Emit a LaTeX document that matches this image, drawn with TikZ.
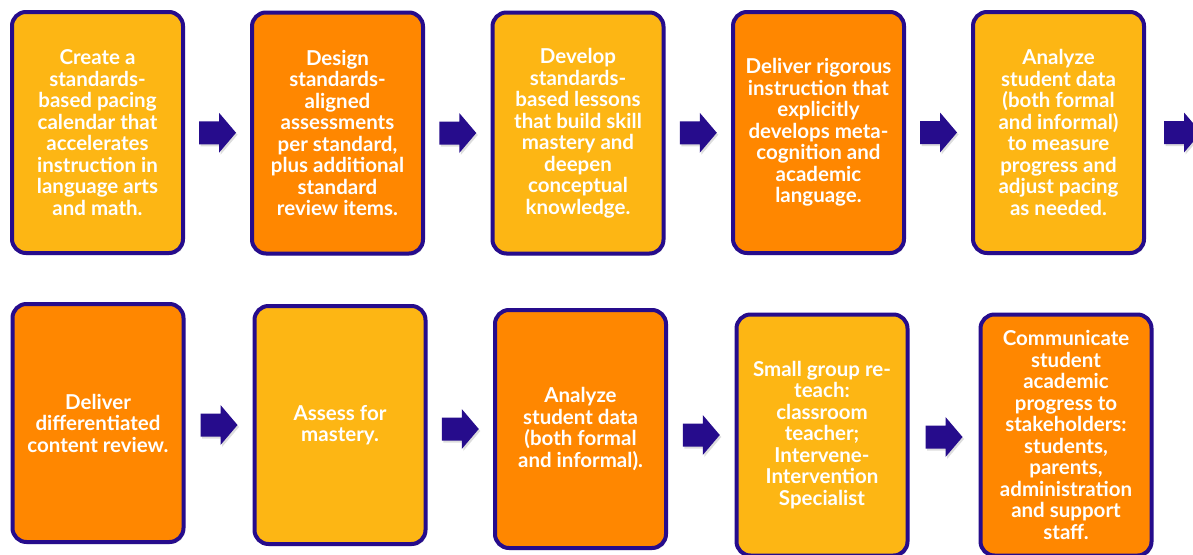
\documentclass[tikz,border=0pt]{standalone}
\usepackage{fontspec}
\setmainfont{Lato}
\usetikzlibrary{shadows,calc}
\definecolor{amber}{RGB}{253,182,20}
\definecolor{orng}{RGB}{255,135,0}
\definecolor{indigo}{RGB}{38,12,140}
\tikzset{
  softshadow/.style={drop shadow={opacity=0.22, shadow xshift=1.5pt, shadow yshift=-2pt, fill=black!60}},
  stepbox/.style={draw=indigo, line width=4pt, rounded corners=14pt,
    minimum width=171pt, minimum height=241pt, inner sep=0pt, text=white,
    align=center, font=\fontsize{20.5}{21.5}\selectfont\bfseries, softshadow},
  lightbox/.style={stepbox, fill=amber},
  darkbox/.style={stepbox, fill=orng},
  blockarrow/.style={fill=indigo, softshadow}
}
\newcommand\blockarr[1]{\path[blockarrow] ($(#1)+(-18.5,-11.5)$) -- ++(20,0) -- ++(0,-8.5) -- ++(17,20) -- ++(-17,20) -- ++(0,-8.5) -- ++(-20,0) -- cycle;}
\begin{document}
\begin{tikzpicture}[x=1pt,y=-1pt]
\clip (0,0) rectangle (1193,554);
\fill[white] (0,0) rectangle (1193,554);
% top row
\node[lightbox] (b1) at (97.5,132.5) {Create a\\standards-\\based pacing\\calendar that\\accelerates\\instruction in\\language arts\\and math.};
\node[darkbox] (b2) at (337.5,133) {Design\\standards-\\aligned\\assessments\\per standard,\\plus additional\\standard\\review items.};
\node[lightbox] (b3) at (578,133) {Develop\\standards-\\based lessons\\that build skill\\mastery and\\deepen\\conceptual\\knowledge.};
\node[darkbox] (b4) at (818.5,132.5) {Deliver rigorous\\instruction that\\explicitly\\develops meta-\\cognition and\\academic\\language.};
\node[lightbox] (b5) at (1058.5,132.5) {Analyze\\student data\\(both formal\\and informal)\\to measure\\progress and\\adjust pacing\\as needed.};
% bottom row
\node[darkbox, minimum height=238pt] (b6) at (98,423) {Deliver\\differentiated\\content review.};
\node[lightbox, minimum height=238pt] (b7) at (340,425) {Assess for\\mastery.};
\node[darkbox, minimum height=238pt] (b8) at (580.5,429) {Analyze\\student data\\(both formal\\and informal).};
\node[lightbox] (b9) at (822,435) {Small group re-\\teach:\\classroom\\teacher;\\Intervene-\\Intervention\\Specialist};
\node[darkbox] (b10) at (1066,435) {Communicate\\student\\academic\\progress to\\stakeholders:\\students,\\parents,\\administration\\and support\\staff.};
% arrow positions
\coordinate (m12) at ($(b1.east)!0.5!(b2.west)$);
\coordinate (m23) at ($(b2.east)!0.5!(b3.west)$);
\coordinate (m34) at ($(b3.east)!0.5!(b4.west)$);
\coordinate (m45) at ($(b4.east)!0.5!(b5.west)$);
\coordinate (m5x) at ($(b5.east)+(36.5,0)$);
\coordinate (m67) at ($(b6.east)!0.5!(b7.west)+(0,1)$);
\coordinate (m78) at ($(b7.east)!0.5!(b8.west)+(0,2)$);
\coordinate (m89) at ($(b8.east)!0.5!(b9.west)+(0,3)$);
\coordinate (m910) at ($(b9.east)!0.5!(b10.west)+(0,2)$);
\blockarr{m12}
\blockarr{m23}
\blockarr{m34}
\blockarr{m45}
\blockarr{m5x}
\blockarr{m67}
\blockarr{m78}
\blockarr{m89}
\blockarr{m910}
\end{tikzpicture}
\end{document}
